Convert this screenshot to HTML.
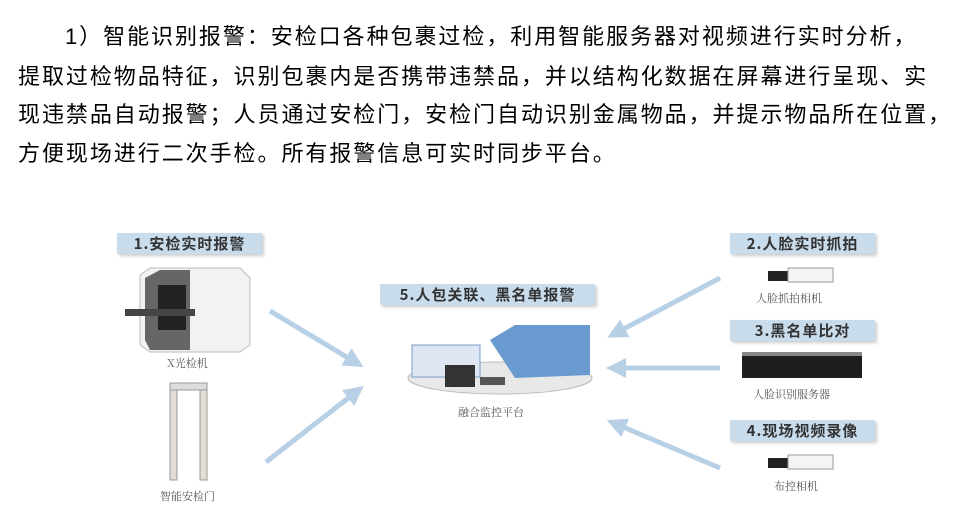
<!DOCTYPE html>
<html><head><meta charset="utf-8"><style>
body{margin:0;width:963px;height:507px;background:#fff;position:relative;overflow:hidden;font-family:"Liberation Sans","Noto Sans CJK SC",sans-serif}
.p{position:absolute;left:18px;font-size:22px;letter-spacing:1.95px;color:#000;white-space:nowrap;line-height:24px}
.lb{position:absolute;background:#c9dcec;box-shadow:2px 2px 3px #ccc;font-family:"Noto Sans CJK SC",sans-serif;font-weight:bold;font-size:15px;color:#333;text-align:center;line-height:21px;height:21px;letter-spacing:1px}
.cap{position:absolute;font-family:"Noto Serif CJK SC",serif;font-size:11px;color:#555;white-space:nowrap}
</style></head><body>
<div class="p" style="top:25px;left:65px">1）智能识别报警：安检口各种包裹过检，利用智能服务器对视频进行实时分析，</div>
<div class="p" style="top:65px">提取过检物品特征，识别包裹内是否携带违禁品，并以结构化数据在屏幕进行呈现、实</div>
<div class="p" style="top:103px">现违禁品自动报警；人员通过安检门，安检门自动识别金属物品，并提示物品所在位置，</div>
<div class="p" style="top:142px">方便现场进行二次手检。所有报警信息可实时同步平台。</div>

<div class="lb" style="left:117px;top:233px;width:145px">1.安检实时报警</div>
<div class="lb" style="left:380px;top:284px;width:215px">5.人包关联、黑名单报警</div>
<div class="lb" style="left:730px;top:233px;width:145px">2.人脸实时抓拍</div>
<div class="lb" style="left:730px;top:320px;width:145px">3.黑名单比对</div>
<div class="lb" style="left:730px;top:420px;width:145px">4.现场视频录像</div>

<svg width="963" height="507" style="position:absolute;left:0;top:0">
<defs><marker id="a" markerWidth="4" markerHeight="4" refX="2" refY="2" orient="auto" markerUnits="strokeWidth"><path d="M0,0L4,2L0,4z" fill="#b8d0e6"/></marker></defs>
<g stroke="#b8d0e6" stroke-width="5" marker-end="url(#a)">
<line x1="270" y1="311" x2="355" y2="362"/>
<line x1="266" y1="462" x2="356" y2="392"/>
<line x1="720" y1="278" x2="616" y2="333"/>
<line x1="720" y1="368" x2="616" y2="368"/>
<line x1="720" y1="468" x2="616" y2="424"/>
</g>
<!-- xray machine -->
<path d="M140,275 L150,268 L240,268 L250,278 L250,345 L240,352 L150,352 L140,345 Z" fill="#f2f2f2" stroke="#bbb"/>
<path d="M145,278 L160,270 L190,270 L190,350 L150,350 L145,340 Z" fill="#666"/>
<rect x="158" y="285" width="28" height="45" fill="#222"/>
<rect x="125" y="309" width="70" height="7" fill="#444"/>
<!-- gate -->
<rect x="170" y="385" width="7" height="95" fill="#e4ddd5" stroke="#999"/>
<rect x="200" y="385" width="7" height="95" fill="#e4ddd5" stroke="#999"/>
<rect x="170" y="383" width="37" height="7" fill="#ddd" stroke="#999"/>
<!-- platform -->
<ellipse cx="500" cy="378" rx="92" ry="16" fill="#e8e8e8" stroke="#bbb"/>
<path d="M490,340 L515,325 L590,325 L590,375 L515,378 Z" fill="#6a9bd0"/>
<rect x="412" y="345" width="68" height="32" fill="#dde6f2" stroke="#7a9cc8"/>
<rect x="445" y="365" width="30" height="22" fill="#333"/>
<rect x="480" y="377" width="25" height="8" fill="#555"/>
<!-- cameras -->
<rect x="768" y="271" width="20" height="10" fill="#222"/><rect x="788" y="268" width="45" height="14" fill="#f4f4f4" stroke="#999"/>
<rect x="768" y="458" width="20" height="10" fill="#222"/><rect x="788" y="455" width="45" height="14" fill="#f4f4f4" stroke="#999"/>
<!-- server -->
<rect x="742" y="354" width="120" height="24" fill="#1e1e1e"/>
<rect x="742" y="352" width="120" height="4" fill="#888"/>
</svg>
<div class="cap" style="left:167px;top:355px">X光检机</div>
<div class="cap" style="left:160px;top:488px">智能安检门</div>
<div class="cap" style="left:458px;top:404px">融合监控平台</div>
<div class="cap" style="left:756px;top:290px">人脸抓拍相机</div>
<div class="cap" style="left:753px;top:386px">人脸识别服务器</div>
<div class="cap" style="left:774px;top:478px">布控相机</div>
</body></html>
